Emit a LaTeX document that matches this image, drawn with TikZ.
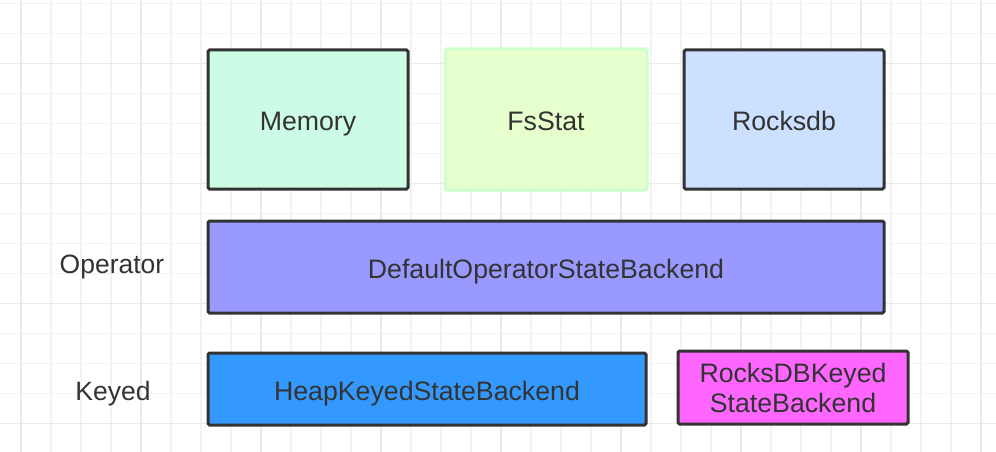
\documentclass[tikz,border=0pt]{standalone}
\usepackage{fontspec}
\setmainfont{Liberation Sans}
\definecolor{gridminor}{HTML}{F3F3F3}
\definecolor{gridmajor}{HTML}{EAEAEA}
\definecolor{edge}{HTML}{333333}
\definecolor{txt}{HTML}{333333}
\definecolor{mint}{HTML}{CCFBE6}
\definecolor{lgreen}{HTML}{E6FFCC}
\definecolor{lgreenedge}{HTML}{CCFFCC}
\definecolor{lblue}{HTML}{CCE0FF}
\definecolor{violet}{HTML}{9999FF}
\definecolor{blue}{HTML}{3399FF}
\definecolor{pink}{HTML}{FF66FF}
\tikzset{
  boxstyle/.style={draw=edge, line width=3pt, rounded corners=1.5pt, inner sep=0pt,
    text=txt, font=\fontsize{26.7}{30}\selectfont, align=center},
  onel/.style={text height=22pt, text depth=0pt},
  lbl/.style={text=txt, font=\fontsize{26.5}{30}\selectfont, inner sep=0pt, text height=19.4pt, text depth=0pt}
}
\begin{document}
\begin{tikzpicture}[x=1pt,y=-1pt]
\useasboundingbox (0,0) rectangle (996,452);
\fill[white] (0,0) rectangle (996,452);
% grid
\foreach \k in {0,...,32} {
  \draw[gridminor, line width=1.5pt] ({21+30*\k},0) -- ({21+30*\k},452);
}
\foreach \k in {0,...,14} {
  \draw[gridminor, line width=1.5pt] (0,{3.5+30*\k}) -- (996,{3.5+30*\k});
}
\foreach \k in {0,...,8} {
  \draw[gridmajor, line width=1.8pt] ({21+120*\k},0) -- ({21+120*\k},452);
}
\foreach \y in {63.5,183.5,303.5,423.5} {
  \draw[gridmajor, line width=1.8pt] (0,\y) -- (996,\y);
}
% boxes
\node[boxstyle, onel, fill=mint, minimum width=200pt, minimum height=139pt] (memory) at (308,119.5) {Memory};
\node[boxstyle, onel, fill=lgreen, draw=lgreenedge, minimum width=202pt, minimum height=141pt] (fsstat) at (546,119.5) {FsStat};
\node[boxstyle, onel, fill=lblue, minimum width=200pt, minimum height=139pt] (rocksdb) at (784,119.5) {Rocksdb};
\node[boxstyle, onel, fill=violet, minimum width=676pt, minimum height=92pt] (default) at (546,267) {DefaultOperatorStateBackend};
\node[boxstyle, onel, fill=blue, minimum width=438pt, minimum height=72pt] (heap) at (427,389) {HeapKeyedStateBackend};
\node[boxstyle, fill=pink, minimum width=230pt, minimum height=73pt] (rocksKeyed) at (793,387.5) {RocksDBKeyed\\StateBackend};
% row labels
\node[lbl] (operator) at (112,263.6) {Operator};
\node[lbl] (keyed) at (113,390.5) {Keyed};
\end{tikzpicture}
\end{document}
